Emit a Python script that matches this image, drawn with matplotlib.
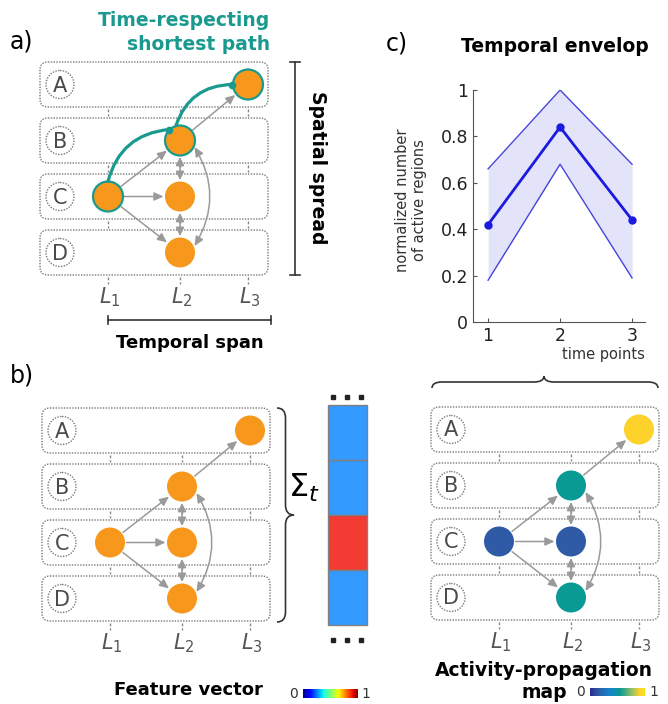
import matplotlib.pyplot as plt
import numpy as np
from matplotlib.patches import FancyBboxPatch, Circle, FancyArrowPatch, Rectangle, PathPatch
from matplotlib.path import Path
from matplotlib.colors import LinearSegmentedColormap

# panel c: temporal envelope
time_points = [1, 2, 3]
env_mean = [0.42, 0.84, 0.44]
env_upper = [0.66, 1.00, 0.68]
env_lower = [0.18, 0.68, 0.19]
y_ticks = [0, 0.2, 0.4, 0.6, 0.8, 1]
y_tick_labels = ['0', '0.2', '0.4', '0.6', '0.8', '1']

# networks (panels a, b and the activity map)
regions = ['A', 'B', 'C', 'D']
layers = ['$L_1$', '$L_2$', '$L_3$']
nodes = [('C', 0), ('B', 1), ('C', 1), ('D', 1), ('A', 2)]
edges = [(('C', 0), ('B', 1)), (('C', 0), ('C', 1)), (('C', 0), ('D', 1)), (('B', 1), ('A', 2))]
two_way = [(('B', 1), ('C', 1)), (('C', 1), ('D', 1))]
curved_two_way = [(('B', 1), ('D', 1))]
shortest_path = [('C', 0), ('B', 1), ('A', 2)]
activity = [0.15, 0.55, 0.15, 0.55, 0.9]
feature_vector = [0.25, 0.25, 0.9, 0.25]

orange = '#F7981D'
teal = '#1A9A8F'
grey = '#9A9A9A'
R = 15

parula = LinearSegmentedColormap.from_list('parula_like', [
    (0.0, '#2B2C8F'), (0.15, '#2E5AA6'), (0.35, '#1683C9'), (0.55, '#0A9A94'),
    (0.75, '#8DBF6A'), (0.9, '#FDD22B'), (1.0, '#F5E51B')])

fig = plt.figure(figsize=(6.68, 7.04), dpi=100)
ax = fig.add_axes([0, 0, 1, 1])


def brace(s0, s1, sm, base, depth, vertical):
    h = depth / 2
    r = 10
    pts = [(s0, base), (s0, base + h), (s0 + r, base + h), (sm - r, base + h),
           (sm, base + h), (sm, base + depth), (sm, base + h), (sm + r, base + h),
           (s1 - r, base + h), (s1, base + h), (s1, base)]
    codes = [Path.MOVETO, Path.CURVE3, Path.CURVE3, Path.LINETO, Path.CURVE3, Path.CURVE3,
             Path.CURVE3, Path.CURVE3, Path.LINETO, Path.CURVE3, Path.CURVE3]
    if vertical:
        pts = [(t, s) for s, t in pts]
    ax.add_patch(PathPatch(Path(pts, codes), fc='none', ec='#333333', lw=1.2))


def arrow(p, q, style, color=grey, lw=1.1, rad=0.0, gap=1.5):
    p, q = np.array(p, float), np.array(q, float)
    u = (q - p) / np.hypot(*(q - p))
    a = p + u * (R + gap)
    b = q - u * (R + gap)
    ax.add_patch(FancyArrowPatch(a, b, arrowstyle=style, color=color, lw=lw,
                                 shrinkA=0, shrinkB=0, connectionstyle=f'arc3,rad={rad}', zorder=3))


def network(x0, y0, colors, path=False):
    pitch, bh, bw = 56, 45, 228
    cols = [x0 + 68, x0 + 140, x0 + 208]
    rows = {r: y0 + i * pitch + bh / 2 for i, r in enumerate(regions)}
    pos = lambda n: (cols[n[1]], rows[n[0]])
    for i, r in enumerate(regions):
        ax.add_patch(FancyBboxPatch((x0, y0 + i * pitch), bw, bh,
                                    boxstyle='round,pad=0,rounding_size=8',
                                    fc='white', ec='#7a7a7a', lw=1, ls=(0, (1, 1))))
        ax.add_patch(Circle((x0 + 20, rows[r]), 14, fc='white', ec='#7a7a7a', lw=1, ls=(0, (1, 1))))
        ax.text(x0 + 20, rows[r] + 1, r, ha='center', va='center', fontsize=15, color='#4a4a4a')
        ytop = y0 + i * pitch + bh + 2
        for cx in cols:
            ax.plot([cx, cx], [ytop, ytop + 7], color='#888888', lw=1, ls=(0, (2, 1.5)))
    for j, lab in enumerate(layers):
        ax.text(cols[j] + 2, y0 + 3 * pitch + bh + 22, lab, ha='center', va='center',
                fontsize=15, color='#555555')
    for p, q in edges:
        arrow(pos(p), pos(q), '-|>,head_length=5.5,head_width=2.5')
    for p, q in two_way:
        arrow(pos(p), pos(q), '<|-|>,head_length=5,head_width=2.5')
    for p, q in curved_two_way:
        a, b = np.array(pos(p)), np.array(pos(q))
        ax.add_patch(FancyArrowPatch(a + (14.5, 6.5), b + (14.5, -6.5),
                                     arrowstyle='<|-|>,head_length=5.5,head_width=2.5',
                                     color=grey, lw=1.1, shrinkA=0, shrinkB=0,
                                     connectionstyle='arc3,rad=-0.3', zorder=3))
    for n, c in zip(nodes, colors):
        on_path = path and n in shortest_path
        ax.add_patch(Circle(pos(n), R, fc=c, ec=teal if on_path else c,
                            lw=1.6 if on_path else 0, zorder=4))
    if path:
        c1, b2, a3 = [np.array(pos(n), float) for n in shortest_path]
        segs = [(c1 + (0, -R), b2 + (-11, -11)), (b2 + (-4, -R), a3 + (-R - 1, 0))]
        for s, e in segs:
            ax.add_patch(FancyArrowPatch(s, e, arrowstyle='-', color=teal, lw=2.3,
                                         shrinkA=0, shrinkB=0,
                                         connectionstyle='arc3,rad=-0.35', zorder=5))
            ax.plot(*e, 'o', color=teal, ms=4.5, zorder=6)
    return cols, rows


# ---- panel a
ax.text(10, 42, 'a)', fontsize=17, va='center')
ax.text(270, 21, 'Time-respecting', fontsize=13.5, fontweight='bold', color=teal, ha='right', va='center')
ax.text(270, 45, 'shortest path', fontsize=13.5, fontweight='bold', color=teal, ha='right', va='center')
network(40, 62, [orange] * len(nodes), path=True)
ax.plot([295, 295], [62, 275], color='#333333', lw=1.2)
ax.plot([290, 300], [62, 62], color='#333333', lw=1.2)
ax.plot([290, 300], [275, 275], color='#333333', lw=1.2)
ax.text(318, 168, 'Spatial spread', rotation=-90, fontsize=13.5, fontweight='bold', ha='center', va='center')
ax.plot([108, 271], [320, 320], color='#333333', lw=1.2)
ax.plot([108, 108], [316, 324], color='#333333', lw=1.2)
ax.plot([271, 271], [316, 324], color='#333333', lw=1.2)
ax.text(190, 343, 'Temporal span', fontsize=13, fontweight='bold', ha='center', va='center')

# ---- panel b
ax.text(10, 375, 'b)', fontsize=17, va='center')
network(42, 408, [orange] * len(nodes))
brace(408, 622, 515, 277, 17, vertical=True)
ax.text(304, 488, r'$\Sigma_t$', fontsize=23, ha='center', va='center')
cell_edges = np.linspace(405, 625, len(feature_vector) + 1)
jet = plt.get_cmap('jet')
for k, v in enumerate(feature_vector):
    ax.add_patch(Rectangle((328, cell_edges[k]), 39, cell_edges[k + 1] - cell_edges[k],
                           fc=jet(v), alpha=0.8, ec='none'))
    ax.add_patch(Rectangle((328, cell_edges[k]), 39, cell_edges[k + 1] - cell_edges[k],
                           fc='none', ec='#808080', lw=1))
for yy in (397, 640):
    ax.plot([333, 347, 361], [yy] * 3, 's', color='#222222', ms=3)
ax.text(188, 690, 'Feature vector', fontsize=13, fontweight='bold', ha='center', va='center')
grad = np.linspace(0, 1, 256)[None, :]
ax.imshow(grad, cmap='jet', extent=(303, 358, 698, 689), aspect='auto')
ax.text(298, 694, '0', fontsize=10, color='#333333', ha='right', va='center')
ax.text(361, 694, '1', fontsize=10, color='#333333', ha='left', va='center')

# ---- activity propagation map
network(431, 407, [parula(a) for a in activity])
brace(432, 658, 544, 388, -12, vertical=False)
ax.text(544, 670, 'Activity-propagation', fontsize=13.5, fontweight='bold', ha='center', va='center')
ax.text(544, 692, 'map', fontsize=13.5, fontweight='bold', ha='center', va='center')
ax.imshow(grad, cmap=parula, extent=(590, 645, 696, 688), aspect='auto')
ax.text(585, 692, '0', fontsize=10, color='#333333', ha='right', va='center')
ax.text(649, 692, '1', fontsize=10, color='#333333', ha='left', va='center')

# ---- panel c
ax.text(386, 44, 'c)', fontsize=17, va='center')
ax.text(555, 46, 'Temporal envelop', fontsize=13.5, fontweight='bold', ha='center', va='center')
ax.text(411, 200, 'normalized number\nof active regions', rotation=90, fontsize=10.5,
        ha='center', va='center', multialignment='center', color='#333333')
ax.text(603, 355, 'time points', fontsize=10.5, ha='center', va='center', color='#333333')

ax.set_xlim(0, 668)
ax.set_ylim(704, 0)
ax.axis('off')

ax2 = fig.add_axes([473 / 668, (704 - 322) / 704, (645 - 473) / 668, (322 - 90) / 704])
ax2.fill_between(time_points, env_lower, env_upper, color='#E3E3F9', lw=0)
ax2.plot(time_points, env_upper, color='#4545DD', lw=1)
ax2.plot(time_points, env_lower, color='#4545DD', lw=1)
ax2.plot(time_points, env_mean, color='#1A1AE0', lw=2, marker='o', ms=5, clip_on=False)
ax2.set_xlim(0.79, 3.18)
ax2.set_ylim(0, 1)
ax2.set_xticks(time_points)
ax2.set_yticks(y_ticks)
ax2.set_yticklabels(y_tick_labels)
ax2.tick_params(direction='in', length=3, color='#555555', labelsize=12.5, labelcolor='#222222')
for s in ('top', 'right'):
    ax2.spines[s].set_visible(False)
for s in ('left', 'bottom'):
    ax2.spines[s].set_color('#555555')
ax2.patch.set_alpha(0)

fig.savefig('out.png', dpi=100)
